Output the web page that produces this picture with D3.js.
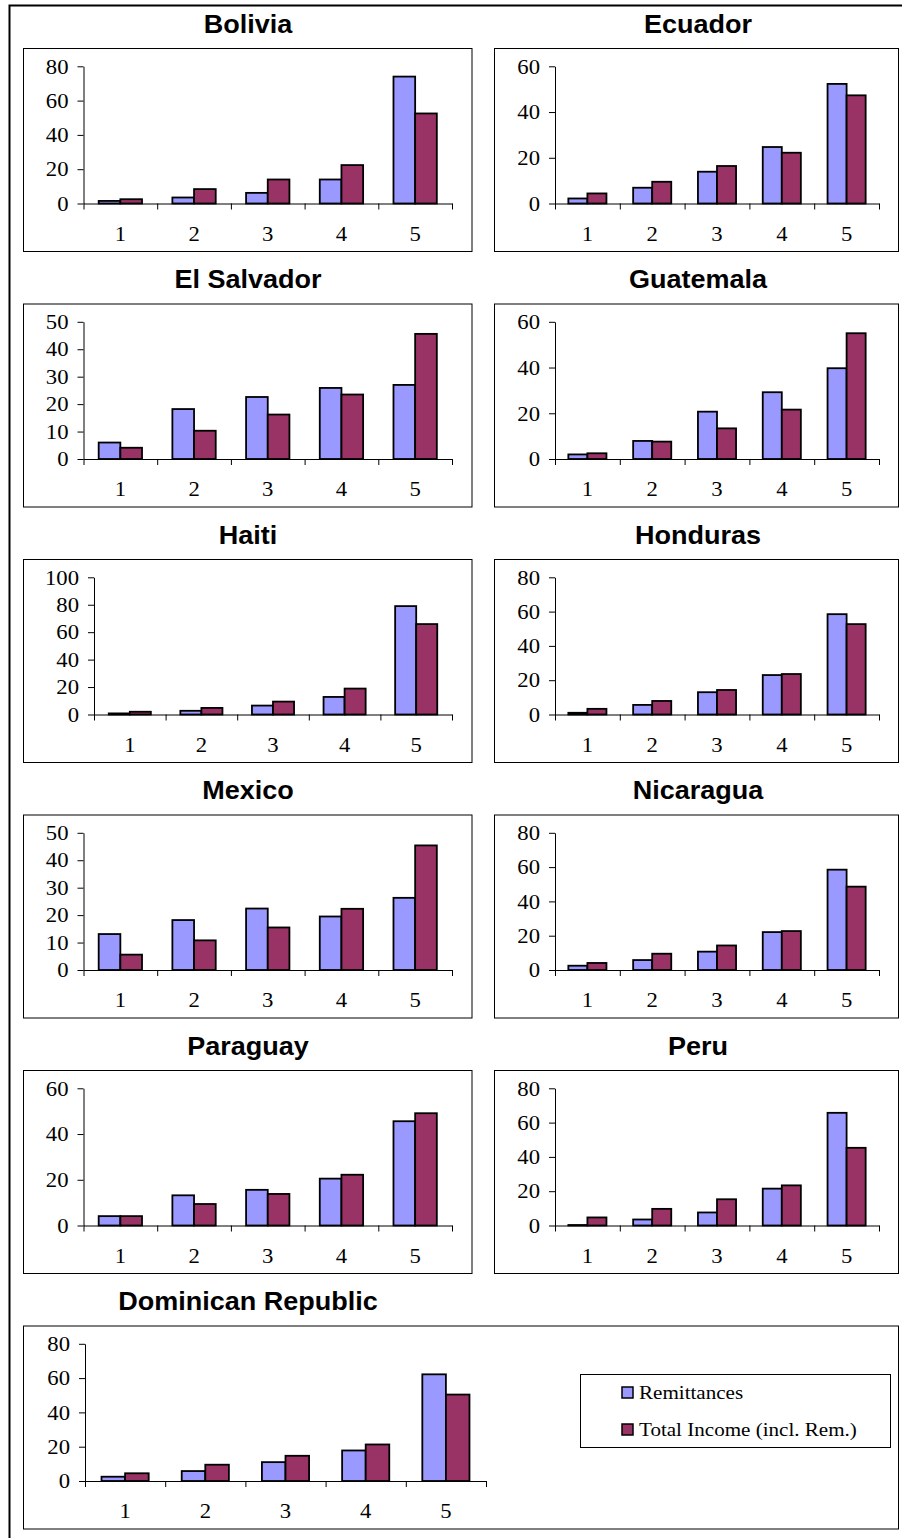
<!DOCTYPE html>
<html>
<head>
<meta charset="utf-8">
<script src="https://cdn.jsdelivr.net/npm/d3@7"></script>
<style>
    body { margin: 0; background: #fff; }
    .axis path, .axis line { stroke: #000; stroke-width: 1; }
    .axis text { font-family: "Liberation Serif", "Times New Roman", serif; font-size: 21px; fill: #000; }
    .title { font-family: "Liberation Sans", Arial, sans-serif; font-size: 25px; font-weight: bold; }
    .legend text { font-family: "Liberation Serif", "Times New Roman", serif; font-size: 19.5px; }
</style>
</head>
<body>
<script>
//-----------------------------DATA-----------------------------//
const categories = ["1", "2", "3", "4", "5"];
const countries = ["Bolivia", "Ecuador", "El Salvador", "Guatemala", "Haiti", "Honduras",
    "Mexico", "Nicaragua", "Paraguay", "Peru", "Dominican Republic"];
const seriesNames = ["Remittances", "Total Income (incl. Rem.)"];

const remittances = [
    [1.5, 3.5, 6.2, 14, 74],
    [2.2, 6.9, 13.9, 24.7, 52.3],
    [6.0, 18.2, 22.6, 25.9, 27.0],
    [2.0, 7.9, 20.7, 29.2, 39.7],
    [0.8, 2.7, 6.5, 12.8, 79.0],
    [1.0, 5.6, 13.0, 23.0, 58.5],
    [13.1, 18.2, 22.4, 19.5, 26.3],
    [2.5, 5.8, 10.7, 22.1, 58.5],
    [4.1, 13.2, 15.6, 20.5, 45.6],
    [0.3, 3.5, 7.6, 21.5, 65.7],
    [2.5, 5.8, 11.0, 17.8, 62.2]
];
const totalIncome = [
    [2.5, 8.4, 14, 22.4, 52.5],
    [4.4, 9.5, 16.4, 22.2, 47.3],
    [4.1, 10.3, 16.2, 23.5, 45.6],
    [2.5, 7.6, 13.4, 21.6, 55.0],
    [2.0, 4.8, 9.4, 18.9, 65.9],
    [3.3, 7.9, 14.3, 23.6, 52.7],
    [5.6, 10.8, 15.5, 22.3, 45.4],
    [4.1, 9.5, 14.3, 22.7, 48.6],
    [4.1, 9.4, 13.8, 22.2, 49.1],
    [4.7, 9.7, 15.3, 23.4, 45.3],
    [4.5, 9.5, 14.7, 21.3, 50.4]
];
// y axis tick labels per panel
const yMax = [80, 60, 50, 60, 100, 80, 50, 80, 60, 80, 80];
const yStep = [20, 20, 10, 20, 20, 20, 10, 20, 20, 20, 20];

const colors = ["#9999FF", "#993366"];

//-----------------------------SVG------------------------------//
const width = 902, height = 1538;
const svg = d3.select("body").append("svg")
    .attr("width", width)
    .attr("height", height);

// outer frame (only top and left edges are visible)
svg.append("path")
    .attr("d", "M9.5," + height + "V5.5H" + width)
    .attr("fill", "none")
    .attr("stroke", "#000")
    .attr("stroke-width", 2);

const rowStep = 255.5;
const boxH = 203;

countries.forEach(function (name, i) {
    const row = Math.floor(i / 2), col = i % 2;
    const wide = i === countries.length - 1;
    const top = 48 + rowStep * row;

    const box = wide ? { x: 23, w: 875 } : (col === 0 ? { x: 23, w: 448.5 } : { x: 494, w: 404 });
    let axisX, axisEnd;
    if (wide) { axisX = 85; axisEnd = 486; }
    else if (col === 0) { axisX = yMax[i] >= 100 ? 94 : 83.5; axisEnd = 452; }
    else { axisX = 555; axisEnd = 879; }
    const titleX = col === 0 ? 248 : 698;

    const zeroY = top + 155.5, topY = top + 18.3;

    // title
    svg.append("text")
        .attr("class", "title")
        .attr("x", titleX)
        .attr("y", top - 15.5)
        .attr("text-anchor", "middle")
        .text(name);

    // panel border
    svg.append("rect")
        .attr("x", box.x + 0.5)
        .attr("y", top + 0.5)
        .attr("width", box.w)
        .attr("height", boxH)
        .attr("fill", "none")
        .attr("stroke", "#000")
        .attr("stroke-width", 1);

    const g = svg.append("g")
        .attr("transform", "translate(" + axisX + "," + zeroY + ")");
    const w = axisEnd - axisX, h = zeroY - topY;

    //----------------------------SCALES----------------------------//
    const x0 = d3.scaleBand().domain(categories).range([0, w])
        .paddingInner(0.412).paddingOuter(0.206);
    const x1 = d3.scaleBand().domain([0, 1]).range([0, x0.bandwidth()]);
    const xLin = d3.scaleLinear().domain([0, categories.length]).range([0, w]);
    const y = d3.scaleLinear().domain([0, yMax[i]]).range([0, -h]);

    //----------------------------BARS------------------------------//
    const rows = categories.map(function (c, k) {
        return { cat: c, values: [remittances[i][k], totalIncome[i][k]] };
    });
    g.selectAll(".grp")
        .data(rows)
        .enter().append("g")
        .attr("transform", function (d) { return "translate(" + x0(d.cat) + ",0)"; })
        .selectAll("rect")
        .data(function (d) { return d.values; })
        .enter().append("rect")
        .attr("x", function (d, k) { return x1(k); })
        .attr("y", function (d) { return y(d); })
        .attr("width", x1.bandwidth())
        .attr("height", function (d) { return -y(d); })
        .attr("fill", function (d, k) { return colors[k]; })
        .attr("stroke", "#000")
        .attr("stroke-width", 1.8);

    //-----------------------------AXES-----------------------------//
    g.append("g")
        .attr("class", "axis")
        .call(d3.axisLeft(y)
            .tickValues(d3.range(0, yMax[i] + 1, yStep[i]))
            .tickSize(6).tickSizeOuter(0).tickPadding(9));

    g.append("g")
        .attr("class", "axis")
        .call(d3.axisBottom(xLin)
            .tickValues(d3.range(0, categories.length + 1))
            .tickSize(6).tickSizeOuter(0).tickFormat(""));

    g.append("g")
        .attr("class", "axis")
        .call(d3.axisBottom(x0).tickSize(0).tickPadding(22.5))
        .select(".domain").remove();
});

//----------------------------LEGEND----------------------------//
const legend = svg.append("g").attr("class", "legend");
legend.append("rect")
    .attr("x", 580.5).attr("y", 1374.5)
    .attr("width", 310).attr("height", 73)
    .attr("fill", "#fff").attr("stroke", "#000").attr("stroke-width", 1);

const items = legend.selectAll(".item")
    .data(seriesNames)
    .enter().append("g")
    .attr("transform", function (d, k) { return "translate(622," + (1387 + k * 37) + ")"; });
items.append("rect")
    .attr("width", 11).attr("height", 11)
    .attr("fill", function (d, k) { return colors[k]; })
    .attr("stroke", "#000").attr("stroke-width", 1.5);
items.append("text")
    .attr("x", 17).attr("y", 12)
    .text(function (d) { return d; });

// the original glyphs are a little wider than the installed fonts
svg.selectAll("text").each(function () {
    const len = this.getComputedTextLength();
    if (len > 0) {
        d3.select(this)
            .attr("textLength", len * 1.08)
            .attr("lengthAdjust", "spacingAndGlyphs");
    }
});
</script>
</body>
</html>
